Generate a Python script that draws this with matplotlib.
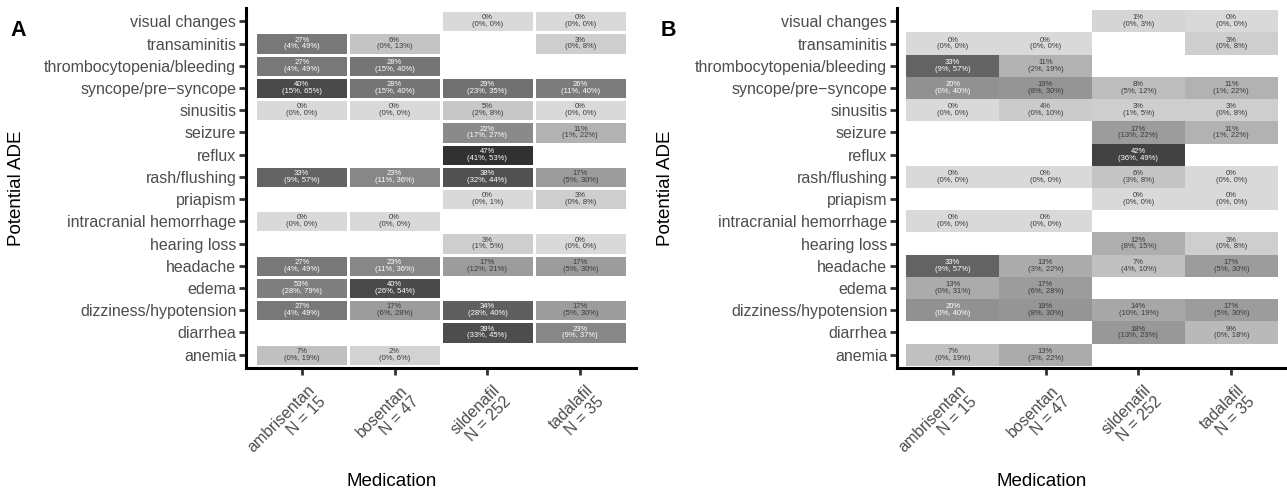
import numpy as np
import matplotlib
matplotlib.use("Agg")
import matplotlib.pyplot as plt
from matplotlib.colors import LinearSegmentedColormap
from matplotlib.transforms import ScaledTranslation

plt.rcParams['font.family'] = ['Liberation Sans', 'DejaVu Sans']

# potential ADEs, top to bottom as drawn
ades = ["visual changes", "transaminitis", "thrombocytopenia/bleeding",
        "syncope/pre\u2212syncope", "sinusitis", "seizure", "reflux",
        "rash/flushing", "priapism", "intracranial hemorrhage", "hearing loss",
        "headache", "edema", "dizziness/hypotension", "diarrhea", "anemia"]
meds = ["ambrisentan", "bosentan", "sildenafil", "tadalafil"]
med_n = [15, 47, 252, 35]

N = None
# panel A: estimate, lower and upper bound (percent), one list per medication
a_pct = [[N, 27, 27, 40, 0, N, N, 33, N, 0, N, 27, 53, 27, N, 7],
         [N, 6, 28, 28, 0, N, N, 23, N, 0, N, 23, 40, 17, N, 2],
         [0, N, N, 29, 5, 22, 47, 38, 0, N, 3, 17, N, 34, 39, N],
         [0, 3, N, 26, 0, 11, N, 17, 3, N, 0, 17, N, 17, 23, N]]
a_lo = [[N, 4, 4, 15, 0, N, N, 9, N, 0, N, 4, 28, 4, N, 0],
        [N, 0, 15, 15, 0, N, N, 11, N, 0, N, 11, 26, 6, N, 0],
        [0, N, N, 23, 2, 17, 41, 32, 0, N, 1, 12, N, 28, 33, N],
        [0, 0, N, 11, 0, 1, N, 5, 0, N, 0, 5, N, 5, 9, N]]
a_hi = [[N, 49, 49, 65, 0, N, N, 57, N, 0, N, 49, 79, 49, N, 19],
        [N, 13, 40, 40, 0, N, N, 36, N, 0, N, 36, 54, 28, N, 6],
        [0, N, N, 35, 8, 27, 53, 44, 1, N, 5, 21, N, 40, 45, N],
        [0, 8, N, 40, 0, 22, N, 30, 8, N, 0, 30, N, 30, 37, N]]

# panel B
b_pct = [[N, 0, 33, 20, 0, N, N, 0, N, 0, N, 33, 13, 20, N, 7],
         [N, 0, 11, 19, 4, N, N, 0, N, 0, N, 13, 17, 19, N, 13],
         [1, N, N, 8, 3, 17, 42, 6, 0, N, 12, 7, N, 14, 18, N],
         [0, 3, N, 11, 3, 11, N, 0, 0, N, 3, 17, N, 17, 9, N]]
b_lo = [[N, 0, 9, 0, 0, N, N, 0, N, 0, N, 9, 0, 0, N, 0],
        [N, 0, 2, 8, 0, N, N, 0, N, 0, N, 3, 6, 8, N, 3],
        [0, N, N, 5, 1, 13, 36, 3, 0, N, 8, 4, N, 10, 13, N],
        [0, 0, N, 1, 0, 1, N, 0, 0, N, 0, 5, N, 5, 0, N]]
b_hi = [[N, 0, 57, 40, 0, N, N, 0, N, 0, N, 57, 31, 40, N, 19],
        [N, 0, 19, 30, 10, N, N, 0, N, 0, N, 22, 28, 30, N, 22],
        [3, N, N, 12, 5, 22, 49, 8, 0, N, 15, 10, N, 19, 23, N],
        [0, 8, N, 22, 8, 22, N, 0, 0, N, 8, 30, N, 30, 18, N]]

# grey fill scale, values beyond the limit fall back to grey50
cmap = LinearSegmentedColormap.from_list("greys", ["#d9d9d9", "#262626"])
cmap.set_over("#7f7f7f")
cmap.set_bad((1, 1, 1, 0))


def to_grid(cols):
    arr = np.array([[np.nan if v is None else v for v in c] for c in cols], dtype=float)
    return np.ma.masked_invalid(arr.T)


def draw_panel(ax, pct, lo, hi, gap):
    grid = to_grid(pct)
    xe = np.arange(len(meds) + 1) + 0.5
    ye = np.arange(len(ades) + 1) + 0.5
    ax.pcolormesh(xe, ye, grid, cmap=cmap, vmin=0, vmax=50,
                  edgecolors="white" if gap else "face", linewidth=1.0 if gap else 0)
    for j in range(len(meds)):
        for i in range(len(ades)):
            p = pct[j][i]
            if p is None:
                continue
            col = "white" if p >= 20 else "#3a3a3a"
            ax.text(j + 1, i + 1, "%d%%\n(%d%%, %d%%)" % (p, lo[j][i], hi[j][i]),
                    ha="center", va="center", fontsize=5.5, color=col, linespacing=0.95)
    ax.set_xlim(0.4, len(meds) + 0.6)
    ax.set_ylim(len(ades) + 0.6, 0.4)
    ax.set_yticks(np.arange(1, len(ades) + 1))
    ax.set_yticklabels(ades, fontsize=11.5, color="#4d4d4d")
    ax.set_xticks(np.arange(1, len(meds) + 1))
    for s in ["top", "right"]:
        ax.spines[s].set_visible(False)
    for s in ["left", "bottom"]:
        ax.spines[s].set_linewidth(2.2)
        ax.spines[s].set_color("black")
    ax.tick_params(length=5, width=2, color="#333333", pad=2)
    labs = ax.set_xticklabels(["%s\nN = %d" % (m, n) for m, n in zip(meds, med_n)],
                              rotation=45, ha="right", va="top", rotation_mode="anchor",
                              fontsize=11.5, color="#4d4d4d", multialignment="right",
                              linespacing=1.05)
    # nudge the rotated labels down and right like the original
    shift = ScaledTranslation(5 / 100, -5 / 100, fig.dpi_scale_trans)
    for t in labs:
        t.set_transform(t.get_transform() + shift)


fig = plt.figure(figsize=(12.87, 4.99), dpi=100)
W, H = 1287.0, 499.0
axA = fig.add_axes([246 / W, (H - 368) / H, 390 / W, 360 / H])
axB = fig.add_axes([897 / W, (H - 368) / H, 390 / W, 360 / H])
draw_panel(axA, a_pct, a_lo, a_hi, True)
draw_panel(axB, b_pct, b_lo, b_hi, False)

for x, lab in [(18 / W, "A"), (668 / W, "B")]:
    fig.text(x, 1 - 30 / H, lab, fontsize=15.5, fontweight="bold", ha="center", va="center")
for x in [17 / W, 665 / W]:
    fig.text(x, 1 - 188 / H, "Potential ADE", rotation=90, fontsize=13.5,
             ha="center", va="center")
for x in [392 / W, 1042 / W]:
    fig.text(x, 1 - 482 / H, "Medication", fontsize=13.5, ha="center", va="center")

fig.savefig("out.png", dpi=100)
